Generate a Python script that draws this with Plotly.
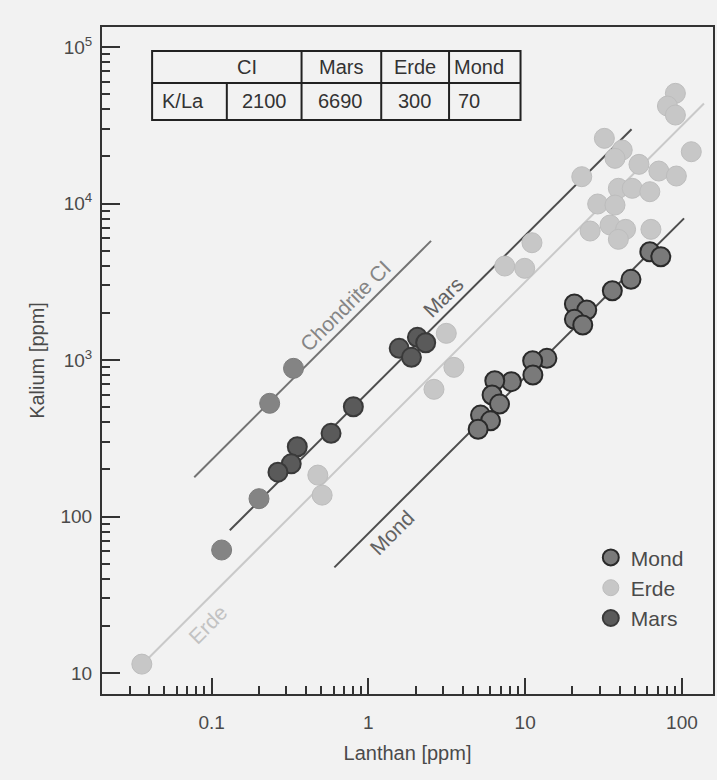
import plotly.graph_objects as go

# ---------------- data ----------------
mond_la = [62.4, 73.3, 47.3, 35.97, 20.6, 24.7, 20.6, 23.3, 13.76, 11.16, 11.2,
           8.17, 6.40, 6.15, 6.86, 5.19, 6.01, 5.01]
mond_k = [4920, 4571, 3280, 2773, 2279, 2087, 1820, 1674, 1025, 990, 802,
          727, 738, 598, 523, 445, 409, 361]

erde_la = [0.0359, 0.476, 0.507, 3.14, 3.51, 2.62, 11.05, 7.41, 9.93, 90.8, 80.8,
           90.8, 32.0, 41.6, 37.4, 114.7, 53.2, 71.2, 92.1, 22.96, 39.3, 48.2,
           62.4, 29.0, 37.4, 25.95, 34.8, 43.7, 39.3, 63.4]
erde_k = [11.4, 184, 137, 1481, 898, 650, 5617, 3987, 3855, 50600, 41970,
          36770, 26100, 21980, 19450, 21430, 17800, 16130, 14990, 14840, 12510, 12510,
          11900, 9930, 9780, 6673, 7290, 6840, 5906, 6840]

mars_la = [2.054, 2.32, 1.572, 1.882, 0.802, 0.578, 0.352, 0.322, 0.265]
mars_k = [1397, 1290, 1188, 1041, 503, 340, 279, 217, 192]

other_la = [0.333, 0.2346, 0.2006, 0.1159]
other_k = [885, 529, 130, 61.1]

line_names = ["Chondrite CI", "Mars", "Erde", "Mond"]
line_ratio = [2300, 625, 315, 78]
line_la_start = [0.0775, 0.1307, 0.0359, 0.607]
line_la_end = [2.51, 47.7, 138.2, 103.1]

table_header = ["CI", "Mars", "Erde", "Mond"]
table_row = ["K/La", "2100", "6690", "300", "70"]

x_tickvals = [0.1, 1, 10, 100]
x_ticktext = ["0.1", "1", "10", "100"]
y_tickvals = [10, 100, 1000, 10000, 100000]
y_ticktext = ["10", "100", "10<sup>3</sup>", "10<sup>4</sup>", "10<sup>5</sup>"]

# ---------------- styling ----------------
BG = "#f2f2f2"
FONT = "Liberation Sans, Arial, sans-serif"
TXT = "#4a4a4a"
AX = "#333333"
line_colors = ["#737373", "#4d4d4d", "#c9c9c9", "#4d4d4d"]
label_colors = ["#858585", "#626262", "#c2c2c2", "#626262"]

fig = go.Figure()

for name, r, a, b, c in zip(line_names, line_ratio, line_la_start, line_la_end, line_colors):
    fig.add_trace(go.Scatter(x=[a, b], y=[r * a, r * b], mode="lines",
                             line=dict(color=c, width=2), showlegend=False,
                             hoverinfo="skip", name=name))

fig.add_trace(go.Scatter(x=erde_la, y=erde_k, mode="markers", name="Erde",
                         legendrank=2,
                         marker=dict(size=20, color="#c7c7c7",
                                     line=dict(color="#bdbdbd", width=1))))
fig.add_trace(go.Scatter(x=other_la, y=other_k, mode="markers", name="CI",
                         showlegend=False,
                         marker=dict(size=20, color="#848484",
                                     line=dict(color="#7c7c7c", width=1))))
fig.add_trace(go.Scatter(x=mars_la, y=mars_k, mode="markers", name="Mars",
                         legendrank=3,
                         marker=dict(size=19, color="#5a5a5a",
                                     line=dict(color="#3a3a3a", width=2))))
fig.add_trace(go.Scatter(x=mond_la, y=mond_k, mode="markers", name="Mond",
                         legendrank=1,
                         marker=dict(size=19, color="#7a7a7a",
                                     line=dict(color="#2a2a2a", width=2))))

# line labels (positions in log10 axis units)
label_pos = [(-0.147, 3.351), (0.482, 3.403), (-1.0235, 1.307), (0.152, 1.895)]
annotations = []
for name, (lx, ly), c in zip(line_names, label_pos, label_colors):
    annotations.append(dict(x=lx, y=ly, xref="x", yref="y", text=name, showarrow=False,
                            textangle=-45, xanchor="center", yanchor="middle",
                            font=dict(family=FONT, size=21, color=c)))

# table (paper coordinates)
tx0, tx1 = 0.082, 0.685
ty0, ty1, tym = 0.8606, 0.964, 0.916
TL = dict(color="#222", width=2)
shapes = [
    dict(type="rect", xref="paper", yref="paper", x0=tx0, x1=tx1, y0=ty0, y1=ty1,
         line=TL, layer="below"),
    dict(type="line", xref="paper", yref="paper", x0=tx0, x1=tx1, y0=tym, y1=tym,
         line=TL, layer="below"),
    dict(type="line", xref="paper", yref="paper", x0=0.2043, x1=0.2043, y0=ty0, y1=tym,
         line=TL, layer="below"),
]
for xv in [0.3266, 0.457, 0.568]:
    shapes.append(dict(type="line", xref="paper", yref="paper", x0=xv, x1=xv, y0=ty0, y1=ty1,
                       line=TL, layer="below"))

hdr_x = [0.2369, 0.3917, 0.5125, 0.5728]
hdr_anchor = ["center", "center", "center", "left"]
for t, xv, an in zip(table_header, hdr_x, hdr_anchor):
    annotations.append(dict(x=xv, y=0.940, xref="paper", yref="paper", text=t, showarrow=False,
                            xanchor=an, yanchor="middle",
                            font=dict(family=FONT, size=20, color="#333")))
row_x = [0.1326, 0.2654, 0.391, 0.5108, 0.5793]
row_anchor = ["center", "center", "center", "center", "left"]
for t, xv, an in zip(table_row, row_x, row_anchor):
    annotations.append(dict(x=xv, y=0.889, xref="paper", yref="paper", text=t, showarrow=False,
                            xanchor=an, yanchor="middle",
                            font=dict(family=FONT, size=20, color="#333")))

minor_x = [0.03, 0.04, 0.05, 0.06, 0.07, 0.08, 0.09,
           0.2, 0.3, 0.4, 0.5, 0.6, 0.7, 0.8, 0.9,
           2, 3, 4, 5, 6, 7, 8, 9,
           20, 30, 40, 50, 60, 70, 80, 90]
minor_y = [m * d for d in [10, 100, 1000, 10000] for m in range(2, 10)]

fig.update_layout(
    width=717, height=780,
    margin=dict(l=102, r=2, t=27, b=86),
    paper_bgcolor=BG, plot_bgcolor=BG,
    font=dict(family=FONT, color=TXT, size=19),
    annotations=annotations,
    shapes=shapes,
    legend=dict(x=0.80, y=0.235, xanchor="left", yanchor="top",
                bgcolor="rgba(0,0,0,0)", font=dict(family=FONT, size=21, color=TXT),
                itemsizing="trace"),
    xaxis=dict(type="log", range=[-1.699, 2.198], showgrid=False, zeroline=False,
               showline=True, linecolor=AX, linewidth=2, mirror=True,
               ticks="inside", ticklen=16, tickwidth=2, tickcolor=AX,
               tickvals=x_tickvals, ticktext=x_ticktext, ticklabelstandoff=10,
               minor=dict(ticks="inside", ticklen=8, tickwidth=2, tickcolor=AX,
                          tickvals=minor_x, showgrid=False),
               title=dict(text="Lanthan [ppm]", standoff=14,
                          font=dict(family=FONT, size=20, color=TXT))),
    yaxis=dict(type="log", range=[0.866, 5.128], showgrid=False, zeroline=False,
               showline=True, linecolor=AX, linewidth=2, mirror=True,
               ticks="inside", ticklen=18, tickwidth=2, tickcolor=AX,
               tickvals=y_tickvals, ticktext=y_ticktext, ticklabelstandoff=4,
               minor=dict(ticks="inside", ticklen=8, tickwidth=2, tickcolor=AX,
                          tickvals=minor_y, showgrid=False),
               title=dict(text="Kalium [ppm]", standoff=10,
                          font=dict(family=FONT, size=20, color=TXT))),
)

fig.write_html("out.html", config={"displayModeBar": False},
               post_script="document.body.style.margin='0';")
